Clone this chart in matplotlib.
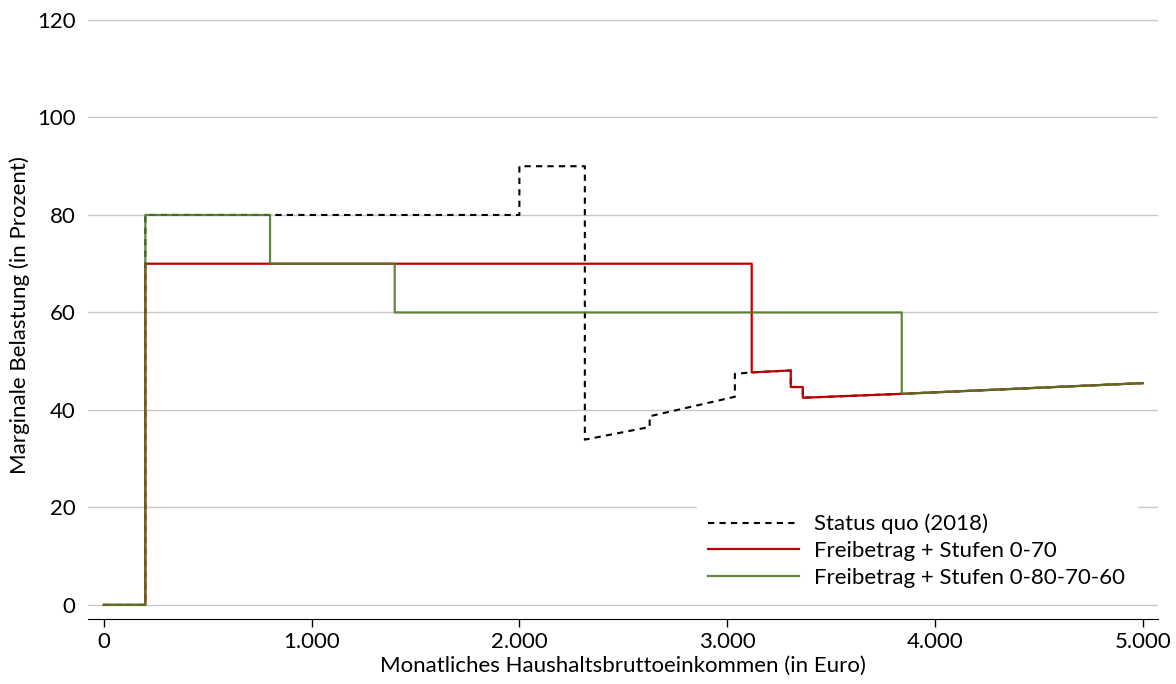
import matplotlib
matplotlib.use("Agg")
import matplotlib.pyplot as plt
from matplotlib.ticker import FuncFormatter

plt.rcParams["font.family"] = ["Lato", "DejaVu Sans"]

# marginal burden (percent) against monthly gross household income (euro)
SQ_X = [0, 200, 200, 2000, 2000, 2315, 2315, 2627, 2627, 3037, 3037, 3117,
        3306, 3306, 3364, 3364, 3840, 5000]
SQ_Y = [0, 0, 80, 80, 90, 90, 33.9, 36.5, 38.7, 42.7, 47.4, 47.7,
        48.1, 44.7, 44.7, 42.5, 43.3, 45.5]

RED_X = [0, 200, 200, 3118, 3118, 3306, 3306, 3364, 3364, 3840, 5000]
RED_Y = [0, 0, 70, 70, 47.7, 48.1, 44.7, 44.7, 42.5, 43.3, 45.5]

GREEN_X = [0, 200, 200, 800, 800, 1400, 1400, 3840, 3840, 5000]
GREEN_Y = [0, 0, 80, 80, 70, 70, 60, 60, 43.3, 45.5]

LABELS = ["Status quo (2018)", "Freibetrag + Stufen 0-70",
          "Freibetrag + Stufen 0-80-70-60"]

FS = 16

fig, ax = plt.subplots(figsize=(11.76, 6.84), dpi=100)
fig.subplots_adjust(left=0.075, right=0.985, top=0.985, bottom=0.095)

ax.plot(SQ_X, SQ_Y, color="black", lw=1.5, ls=(0, (3, 2.5)), label=LABELS[0], zorder=3)
ax.plot(RED_X, RED_Y, color="#c00000", lw=1.6, label=LABELS[1], zorder=4)
ax.plot(GREEN_X, GREEN_Y, color="#4f7a28", lw=1.6, alpha=0.9, label=LABELS[2], zorder=5)

ax.set_xlim(-75, 5075)
ax.set_ylim(-2.9, 122)
ax.set_yticks(range(0, 121, 20))
ax.set_xticks(range(0, 5001, 1000))
ax.xaxis.set_major_formatter(FuncFormatter(lambda v, p: f"{int(v):,}".replace(",", ".")))
ax.grid(axis="y", color="#c8c8c8", lw=1)
ax.set_axisbelow(True)
for s in ["top", "right", "left"]:
    ax.spines[s].set_visible(False)
ax.spines["bottom"].set_color("black")
ax.tick_params(axis="y", length=0, pad=9, labelsize=FS)
ax.tick_params(axis="x", length=6, width=1, labelsize=FS, pad=3)

ax.set_xlabel("Monatliches Haushaltsbruttoeinkommen (in Euro)", fontsize=FS, labelpad=3)
ax.set_ylabel("Marginale Belastung (in Prozent)", fontsize=FS, labelpad=5)

h, l = ax.get_legend_handles_labels()
order = [l.index(x) for x in LABELS]
leg = ax.legend([h[i] for i in order], [l[i] for i in order], loc="lower right",
                bbox_to_anchor=(0.99, 0.015), frameon=True, fontsize=FS,
                handlelength=4.1, handletextpad=0.7, borderpad=0.5, labelspacing=0.3)
leg.get_frame().set_edgecolor("white")
leg.get_frame().set_facecolor("white")
leg.get_frame().set_alpha(1)
leg.get_frame().set_boxstyle("square", pad=0)

fig.savefig("out.png")
